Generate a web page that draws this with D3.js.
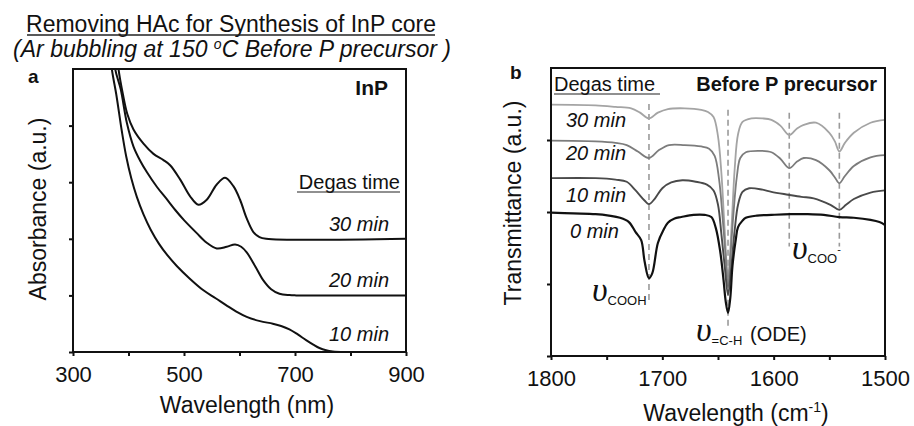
<!DOCTYPE html>
<html lang="en">
<head>
  <meta charset="utf-8">
  <script src="https://d3js.org/d3.v7.min.js"></script>
  <style>
    body { margin: 0; background: #fff; }
    text { font-family: Arial, "Liberation Sans", sans-serif; fill: #111; }
  </style>
</head>
<body>
<script>
// ---- panel a : absorbance ----
const uvLabels = ["10 min", "20 min", "30 min"];
const uv10nm  = [364, 370, 378, 388, 396, 405, 415, 427, 440, 455, 470, 487, 510, 535, 557, 577, 595, 613, 637, 660, 675, 690, 705, 720, 733, 744, 756, 768, 790, 900];
const uv10abs = [5.6, 5.0, 4.55, 3.9, 3.45, 3.07, 2.74, 2.43, 2.16, 1.91, 1.71, 1.52, 1.30, 1.09, 0.95, 0.82, 0.71, 0.62, 0.545, 0.50, 0.46, 0.40, 0.31, 0.21, 0.13, 0.07, 0.03, 0.01, 0, 0];
const uv20nm  = [370, 376, 386, 397, 409, 421, 433, 451, 469, 485, 500, 523, 541, 559, 577, 592, 603, 613, 628, 642, 657, 672, 690, 702, 900];
const uv20abs = [5.6, 5.0, 4.64, 4.05, 3.63, 3.38, 3.18, 2.92, 2.70, 2.50, 2.33, 2.10, 1.93, 1.83, 1.86, 1.90, 1.86, 1.76, 1.52, 1.28, 1.11, 1.03, 1.005, 1.0, 1.0];
const uv30nm  = [376, 382, 390, 398, 409, 427, 445, 463, 475, 493, 511, 526, 541, 559, 574, 589, 601, 613, 625, 636, 648, 900];
const uv30abs = [5.6, 5.0, 4.55, 4.2, 3.93, 3.68, 3.50, 3.39, 3.30, 3.05, 2.75, 2.60, 2.69, 2.96, 3.08, 2.93, 2.69, 2.36, 2.12, 2.03, 2.0, 2.0];
const uvTicks = [300, 400, 500, 600, 700, 800, 900];
const uvTickLabels = [300, 500, 700, 900];

// ---- panel b : FTIR transmittance ----
const irLabels = ["0 min", "10 min", "20 min", "30 min"];
const ir0wn = [1800, 1780, 1760, 1748, 1738, 1730, 1724, 1719, 1716, 1712, 1709, 1704, 1699, 1695, 1689, 1683, 1672, 1662, 1656, 1652, 1648, 1645, 1643, 1641, 1639, 1637, 1634, 1632, 1628, 1625, 1615, 1602, 1585, 1570, 1555, 1541, 1528, 1513, 1505, 1500];
const ir0T  = [1.99, 1.98, 1.97, 1.95, 1.92, 1.86, 1.72, 1.61, 1.32, 1.08, 1.15, 1.57, 1.75, 1.85, 1.91, 1.93, 1.96, 1.96, 1.93, 1.78, 1.45, 1.05, 0.75, 0.60, 0.80, 1.25, 1.62, 1.79, 1.88, 1.92, 1.95, 1.96, 1.97, 1.97, 1.96, 1.93, 1.92, 1.89, 1.86, 1.82];
const ir10wn = [1800, 1760, 1742, 1732, 1724, 1716, 1712, 1707, 1700, 1692, 1682, 1670, 1660, 1654, 1650, 1647, 1644, 1641, 1638, 1635, 1632, 1628, 1622, 1610, 1602, 1587, 1575, 1564, 1549, 1541, 1535, 1528, 1513, 1500];
const ir10T  = [2.47, 2.47, 2.45, 2.42, 2.30, 2.16, 2.11, 2.18, 2.33, 2.41, 2.44, 2.42, 2.38, 2.30, 2.10, 1.70, 1.25, 0.85, 1.25, 1.75, 2.10, 2.28, 2.33, 2.31, 2.28, 2.24, 2.21, 2.19, 2.10, 2.03, 2.10, 2.18, 2.27, 2.30];
const ir20wn = [1800, 1760, 1742, 1732, 1722, 1712, 1703, 1694, 1680, 1665, 1658, 1653, 1649, 1646, 1643, 1641, 1639, 1636, 1633, 1630, 1625, 1612, 1602, 1594, 1586, 1579, 1573, 1562, 1550, 1545, 1541, 1536, 1528, 1513, 1500];
const ir20T  = [2.99, 2.98, 2.96, 2.93, 2.84, 2.75, 2.86, 2.93, 2.93, 2.91, 2.88, 2.78, 2.45, 1.95, 1.35, 0.95, 1.35, 2.0, 2.5, 2.75, 2.83, 2.85, 2.83, 2.74, 2.61, 2.70, 2.75, 2.72, 2.58, 2.48, 2.40, 2.50, 2.64, 2.76, 2.79];
const ir30wn = [1800, 1760, 1742, 1728, 1720, 1712, 1704, 1695, 1680, 1665, 1659, 1654, 1650, 1647, 1644, 1641, 1638, 1635, 1632, 1628, 1620, 1610, 1602, 1594, 1586, 1579, 1573, 1562, 1550, 1545, 1541, 1536, 1528, 1513, 1500];
const ir30T  = [3.49, 3.48, 3.46, 3.44, 3.38, 3.30, 3.38, 3.43, 3.44, 3.42, 3.39, 3.32, 3.05, 2.55, 1.75, 1.08, 1.75, 2.6, 3.08, 3.25, 3.30, 3.30, 3.28, 3.20, 3.07, 3.16, 3.21, 3.24, 3.10, 2.98, 2.84, 2.96, 3.10, 3.24, 3.28];
const irTicks = [1800, 1750, 1700, 1650, 1600, 1550, 1500];
const irTickLabels = [1800, 1700, 1600, 1500];
const irBands = [1712, 1641, 1586, 1541];

const W = 914, H = 426;
const svg = d3.select("body").append("svg")
  .attr("width", W).attr("height", H);

const defs = svg.append("defs");

function addText(g, x, y, str, size, opts) {
  opts = opts || {};
  return g.append("text")
    .attr("x", x).attr("y", y)
    .attr("font-size", size)
    .attr("text-anchor", opts.anchor || "start")
    .attr("font-style", opts.italic ? "italic" : null)
    .attr("font-weight", opts.bold ? "bold" : null)
    .text(str);
}

// titles
addText(svg, 231, 32, "Removing HAc for Synthesis of InP core", 23, {anchor: "middle"});
svg.append("line").attr("x1", 27).attr("x2", 435).attr("y1", 35).attr("y2", 35)
  .attr("stroke", "#222").attr("stroke-width", 1.3);
const sub = svg.append("text").attr("x", 232).attr("y", 57).attr("font-size", 23)
  .attr("text-anchor", "middle").attr("font-style", "italic");
sub.append("tspan").text("(Ar bubbling at 150 ");
sub.append("tspan").attr("font-size", 14).attr("dy", -8).text("o");
sub.append("tspan").attr("dy", 8).text("C Before P precursor )");

// ================= panel a =================
const a = {left: 73, right: 406, top: 69, bottom: 352};
const xA = d3.scaleLinear().domain([300, 900]).range([a.left, a.right]);
const yA = d3.scaleLinear().domain([0, 5]).range([a.bottom, a.top]);

defs.append("clipPath").attr("id", "clipA").append("rect")
  .attr("x", a.left).attr("y", a.top).attr("width", a.right - a.left).attr("height", a.bottom - a.top);

const lineA = d3.line().x(d => xA(d[0])).y(d => yA(d[1])).curve(d3.curveCatmullRom.alpha(0.5));
const uvData = [d3.zip(uv10nm, uv10abs), d3.zip(uv20nm, uv20abs), d3.zip(uv30nm, uv30abs)];

svg.append("g").attr("clip-path", "url(#clipA)")
  .selectAll("path").data(uvData).join("path")
  .attr("d", lineA).attr("fill", "none").attr("stroke", "#111").attr("stroke-width", 2);

svg.append("rect").attr("x", a.left).attr("y", a.top)
  .attr("width", a.right - a.left).attr("height", a.bottom - a.top)
  .attr("fill", "none").attr("stroke", "#111").attr("stroke-width", 2);

const axA = svg.append("g").attr("transform", `translate(0,${a.bottom})`)
  .call(d3.axisBottom(xA).tickValues(uvTicks).tickSize(4)
    .tickFormat(d => uvTickLabels.includes(d) ? d : ""));
axA.select(".domain").remove();
axA.selectAll("line").attr("stroke", "#111").attr("stroke-width", 2);
axA.selectAll("text").attr("font-size", 22).attr("dy", "1.05em").attr("fill", "#111")
  .attr("font-family", "Arial, 'Liberation Sans', sans-serif");

const ayA = svg.append("g").attr("transform", `translate(${a.left},0)`)
  .call(d3.axisLeft(yA).tickValues([0, 1, 2, 3, 4]).tickSize(4).tickFormat(""));
ayA.select(".domain").remove();
ayA.selectAll("line").attr("stroke", "#111").attr("stroke-width", 2);

addText(svg, 247, 413, "Wavelength (nm)", 23, {anchor: "middle"});
addText(svg, 0, 0, "Absorbance (a.u.)", 23, {anchor: "middle"})
  .attr("transform", "translate(46,209) rotate(-90)");

addText(svg, 28, 83, "a", 19, {bold: true});
addText(svg, 388, 95, "InP", 21, {bold: true, anchor: "end"});
addText(svg, 400, 189, "Degas time", 20, {anchor: "end"});
svg.append("line").attr("x1", 297).attr("x2", 400).attr("y1", 192).attr("y2", 192)
  .attr("stroke", "#222").attr("stroke-width", 1.2);
const uvLabelY = [341, 287, 231];
uvLabels.forEach((t, i) => addText(svg, 389, uvLabelY[i], t, 20, {italic: true, anchor: "end"}));

// ================= panel b =================
const b = {left: 551, right: 885, top: 68, bottom: 356};
const xB = d3.scaleLinear().domain([1800, 1500]).range([b.left, b.right]);
const yB = d3.scaleLinear().domain([0, 4]).range([b.bottom, b.top]);

defs.append("clipPath").attr("id", "clipB").append("rect")
  .attr("x", b.left).attr("y", b.top).attr("width", b.right - b.left).attr("height", b.bottom - b.top);

// dashed band markers
const bandTop = [3.50, 3.42, 3.38, 3.38];
const bandBottom = [0.74, 0.40, 1.52, 1.52];
svg.append("g").selectAll("line").data(irBands).join("line")
  .attr("x1", d => xB(d)).attr("x2", d => xB(d))
  .attr("y1", (d, i) => yB(bandTop[i])).attr("y2", (d, i) => yB(bandBottom[i]))
  .attr("stroke", "#9a9a9a").attr("stroke-width", 1.6).attr("stroke-dasharray", "6,4");

const lineB = d3.line().x(d => xB(d[0])).y(d => yB(d[1])).curve(d3.curveCatmullRom.alpha(0.5));
const irData = [d3.zip(ir30wn, ir30T), d3.zip(ir20wn, ir20T), d3.zip(ir10wn, ir10T), d3.zip(ir0wn, ir0T)];
const irColors = ["#a4a4a4", "#7c7c7c", "#4a4a4a", "#111"];
const irWidths = [1.8, 1.8, 1.9, 2.2];

svg.append("g").attr("clip-path", "url(#clipB)")
  .selectAll("path").data(irData).join("path")
  .attr("d", lineB).attr("fill", "none")
  .attr("stroke", (d, i) => irColors[i]).attr("stroke-width", (d, i) => irWidths[i]);

svg.append("rect").attr("x", b.left).attr("y", b.top)
  .attr("width", b.right - b.left).attr("height", b.bottom - b.top)
  .attr("fill", "none").attr("stroke", "#111").attr("stroke-width", 2);

const axB = svg.append("g").attr("transform", `translate(0,${b.bottom})`)
  .call(d3.axisBottom(xB).tickValues(irTicks).tickSize(4)
    .tickFormat(d => irTickLabels.includes(d) ? d : ""));
axB.select(".domain").remove();
axB.selectAll("line").attr("stroke", "#111").attr("stroke-width", 2);
axB.selectAll("text").attr("font-size", 22).attr("dy", "1.05em").attr("fill", "#111")
  .attr("font-family", "Arial, 'Liberation Sans', sans-serif");

const ayB = svg.append("g").attr("transform", `translate(${b.left},0)`)
  .call(d3.axisLeft(yB).tickValues([0, 1, 2, 3]).tickSize(4).tickFormat(""));
ayB.select(".domain").remove();
ayB.selectAll("line").attr("stroke", "#111").attr("stroke-width", 2);

const xt = svg.append("text").attr("x", 736).attr("y", 421).attr("font-size", 23).attr("text-anchor", "middle");
xt.append("tspan").text("Wavelength (cm");
xt.append("tspan").attr("font-size", 14).attr("dy", -9).text("-1");
xt.append("tspan").attr("dy", 9).text(")");

addText(svg, 0, 0, "Transmittance (a.u.)", 23, {anchor: "middle"})
  .attr("transform", "translate(521,203) rotate(-90)");

addText(svg, 510, 79, "b", 19, {bold: true});
addText(svg, 554, 91, "Degas time", 20);
svg.append("line").attr("x1", 554).attr("x2", 660).attr("y1", 94).attr("y2", 94)
  .attr("stroke", "#222").attr("stroke-width", 1.2);
addText(svg, 877, 91, "Before P precursor", 20, {bold: true, anchor: "end"});

const irLabelX = [570, 566, 566, 566];
const irLabelY = [238, 202, 160, 127];
irLabels.forEach((t, i) => addText(svg, irLabelX[i], irLabelY[i], t, 20, {italic: true}));

// band annotations
function bandLabel(x, y, sub, sup) {
  const t = svg.append("text").attr("x", x).attr("y", y);
  t.append("tspan").attr("font-family", "'Liberation Serif', 'DejaVu Serif', serif")
    .attr("font-style", "italic").attr("font-size", 34).text("\u03c5");
  t.append("tspan").attr("font-size", 13).attr("dy", 4).text(sub);
  if (sup) t.append("tspan").attr("font-size", 11).attr("dy", -10).text(sup);
  return t;
}
bandLabel(592, 301, "COOH");
bandLabel(792, 259, "COO", "-");
bandLabel(696, 341, "=C-H");
addText(svg, 750, 341, "(ODE)", 20);
</script>
</body>
</html>
